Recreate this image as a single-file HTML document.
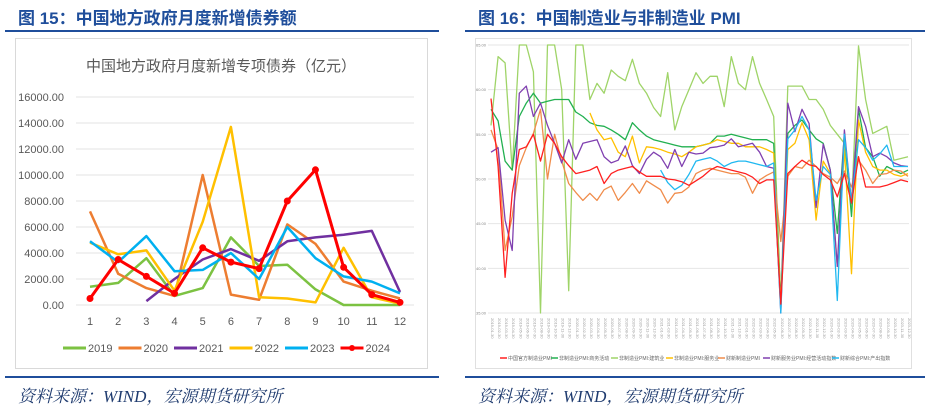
<!DOCTYPE html>
<html><head><meta charset="utf-8">
<style>
body{margin:0;width:929px;height:408px;background:#fff;overflow:hidden;position:relative;font-family:"Liberation Sans","Noto Sans CJK SC",sans-serif}
.hdr{position:absolute;top:4px;font-size:17px;font-weight:bold;color:#1f4e9b;white-space:nowrap}
.rule{position:absolute;height:2px;background:#1f4e9b}
.src{position:absolute;top:382px;font-family:"Liberation Serif","Noto Serif CJK SC",serif;font-style:italic;font-size:17px;color:#1f3b6f}
svg{position:absolute;left:0;top:0}
</style></head><body>
<div class="hdr" style="left:18px">图 15：中国地方政府月度新增债券额</div>
<div class="hdr" style="left:478px">图 16：中国制造业与非制造业 PMI</div>
<div class="rule" style="left:5px;width:434px;top:30px"></div>
<div class="rule" style="left:465px;width:460px;top:30px"></div>
<div class="rule" style="left:5px;width:434px;top:376px"></div>
<div class="rule" style="left:465px;width:460px;top:376px"></div>
<div class="src" style="left:18px">资料来源：WIND，宏源期货研究所</div>
<div class="src" style="left:478px">资料来源：WIND，宏源期货研究所</div>
<svg id="s" width="929" height="408" xmlns="http://www.w3.org/2000/svg"></svg>
<script>
// ---- Left chart data ----
const months=[1,2,3,4,5,6,7,8,9,10,11,12];
const yTicks=[0,2000,4000,6000,8000,10000,12000,14000,16000];
const years=['2019','2020','2021','2022','2023','2024'];
const colors=['#7cc242','#ed7d31','#7030a0','#ffc000','#00b0f0','#ff0000'];
const v2019=[1400,1700,3600,700,1300,5200,3000,3100,1200,0,0,0];
const v2020=[7200,2400,1300,700,10000,800,400,6200,4700,1800,1100,500];
const v2021=[null,null,300,2000,3500,4300,3400,4900,5200,5400,5700,1000];
const v2022=[4800,3900,4200,1100,6400,13700,600,500,200,4400,600,100];
const v2023=[4900,3300,5300,2600,2700,4000,2000,6000,3600,2200,1800,900];
const v2024=[500,3500,2200,900,4400,3300,2800,8000,10400,2900,800,200];

// ---- Right chart data ----
const pTicks=[35,40,45,50,55,60,65];
const pNames=['中国官方制造业PMI','非制造业PMI:商务活动','非制造业PMI:建筑业','非制造业PMI:服务业','财新制造业PMI','财新服务业PMI:经营活动指数','财新综合PMI:产出指数'];
const pColors=['#ff2020','#22b050','#9fd468','#ffc000','#f08c4a','#8040b0','#20b8f0'];
const pRed=[59,51.4,39,48.4,53.3,53.6,55,52,55,54,52.5,51.5,50.6,50.8,51,51.4,49.5,50.6,51,51.2,51.4,50.8,50.3,50.3,50.3,50,49.9,49.7,49.3,49.8,50.3,51,51.4,51.2,51,50.8,50.6,50.2,49.5,49.9,49.9,36,50.6,51.4,52.1,51.6,51.4,50.5,49.9,48,50.6,47.3,52.5,49.1,49.1,49.1,49.3,49.6,49.9,49.7];
const pGreen=[57.8,56.5,52,51,57,58.5,59.6,58.5,58.7,58.9,58.9,58.9,57.5,57,56.3,56,55.9,55.5,55,54.4,56.3,55.5,54.8,54.4,54.2,54,53.8,53.6,53.6,53.6,53.8,54,54.8,54.8,55,54.8,54.6,54.4,54.4,54.4,54,36.4,55.1,56,56.6,55.5,54.5,54,51,43.9,55.1,45.8,57.8,53.5,52.5,50.3,51.4,51,50.6,51];
const pBuild=[56,63.7,63,51,65,65,62,35,65,65,60,37.5,65,65,58.9,60.7,59.6,62.2,61.5,61,63.4,60.7,59.6,58,57,61.9,55.5,58.1,60,61.9,60.7,61.5,61.5,58.1,63.7,60.7,60,63.7,60.7,58.9,57,36,60.4,60.4,60.4,58.9,58.9,57.8,56,55,54,46.9,64.9,58.9,55.1,55.5,55.9,52.1,52.3,52.5];
const pServ=[null,null,null,null,null,null,null,null,null,null,null,null,null,null,57.4,55.5,54.4,54.6,53,52.5,54.8,51.8,53.6,53.5,53.3,53,52.8,52.5,53,53.6,53.8,54,54.4,54.2,54,54,53.6,53.6,53.6,53.3,52.9,36,53.3,54,56.3,54.4,45.4,52,50.6,40.2,53.3,39.4,56.6,53,51.4,51,51,50.5,50.3,50.6];
const pCxMfg=[55.5,53.3,42,45.8,51.5,53.5,55.1,57.8,50,55,52,49.5,48.5,47.6,48.4,47.6,48.8,49.2,47.6,48.5,49.5,48.4,49.8,49.3,48.8,47.3,48.4,48.5,49.1,50.6,51,51.2,51,50.8,50.6,50.6,50.2,48.4,49.9,50.4,50.8,43,50.3,51.4,51.2,52.1,51.4,50.6,50.2,49.5,50.9,49.1,52.1,51,49.5,50.5,50.6,51,50.9,50.3];
const pCxSrv=[53,53.5,45.4,42,59.6,60.4,57,58.5,56,54,51.8,54.4,52.2,54,54.2,54.4,52.5,51.8,52.1,53.7,51.5,50.6,52.2,53,52.5,51.2,53.3,51.4,53,52.8,52.9,53.5,53.6,53.8,54.5,53.6,53.8,54,53,51.4,51.2,35,58.5,55.3,57.8,56.2,46.8,53.9,51,40.2,55.5,47.3,58.1,55.9,52.5,52.9,52.5,51.8,51.5,51.4];
const pCxCmp=[null,null,null,null,null,null,null,null,null,null,null,null,null,null,null,null,null,null,null,null,null,null,null,null,51,49.6,48.8,49.3,50.5,52,52.2,52.4,52,51.4,51.8,52,52,51.8,51.6,51.4,51.8,35,54.5,55.5,57,55.5,47.6,51.4,50.5,36.4,55,47.3,54.4,53.5,52.1,52.8,53.8,51.4,51.4,51.4];
const pDates=[];for(let y=2019;y<=2024;y++)for(let m=1;m<=12;m+=1){if(pDates.length<60)pDates.push(y+'-'+String(m).padStart(2,'0')+'-30');}

const svg=document.getElementById('s');
const NS='http://www.w3.org/2000/svg';
function mk(tag,attrs,parent){const e=document.createElementNS(NS,tag);for(const k in attrs)e.setAttribute(k,attrs[k]);(parent||svg).appendChild(e);return e;}

// ===== Left chart =====
const L=mk('g',{});


const lb=mk('rect',{x:15.5,y:38.5,width:412,height:330,fill:'#fff',stroke:'#d9d9d9'},L);


const lt=mk('text',{x:221,y:71,'text-anchor':'middle','font-size':15,fill:'#595959','font-family':'"Liberation Sans","Noto Sans CJK SC",sans-serif'},L);
lt.textContent='中国地方政府月度新增专项债券（亿元）';


const lx=m=>90+(m-1)*(310/11);
const ly=v=>305-v*13/1000;
yTicks.forEach(t=>{
  const g=mk('line',{x1:76,x2:414,y1:ly(t),y2:ly(t),stroke:'#e3e3e3','stroke-width':1},L);
  
  
  const tx=mk('text',{x:64,y:ly(t)+4,'text-anchor':'end','font-size':11,fill:'#595959'},L);
  tx.textContent=t.toFixed(2);
  
  
});
months.forEach(m=>{
  const tx=mk('text',{x:lx(m),y:325,'text-anchor':'middle','font-size':11,fill:'#595959'},L);
  tx.textContent=m;
  
  
});
const lSeries=[v2019,v2020,v2021,v2022,v2023,v2024];
lSeries.forEach((arr,si)=>{
  let d='';let pen=false;
  arr.forEach((v,i)=>{if(v==null){pen=false;return;}d+=(pen?'L':'M')+lx(months[i]).toFixed(1)+','+ly(v).toFixed(1);pen=true;});
  const p=mk('path',{d:d,fill:'none',stroke:colors[si],'stroke-width':si==5?3:2.5,'stroke-linejoin':'round'},L);
  
  
  if(si==5){arr.forEach((v,i)=>{if(v==null)return;const c=mk('circle',{cx:lx(months[i]),cy:ly(v),r:3.5,fill:colors[5]},L);
    
    });}
});
years.forEach((y,i)=>{
  const x0=63+i*55.5;
  const g=mk('g',{},L);
  
  
  mk('line',{x1:x0,x2:x0+23,y1:348,y2:348,stroke:colors[i],'stroke-width':3},g);
  if(i==5)mk('circle',{cx:x0+11.5,cy:348,r:3,fill:colors[5]},g);
  const t=mk('text',{x:x0+25,y:352,'font-size':11,fill:'#595959'},g);t.textContent=y;
});

// ===== Right chart =====
const R=mk('g',{});


const rb=mk('rect',{x:475.5,y:38.5,width:436,height:330,fill:'#fff',stroke:'#e0e0e0'},R);


mk('clipPath',{id:'pc'},R).appendChild(Object.assign(document.createElementNS(NS,'rect'),{}));
document.querySelector('#pc rect').setAttribute('x',488);document.querySelector('#pc rect').setAttribute('y',44);
document.querySelector('#pc rect').setAttribute('width',424);document.querySelector('#pc rect').setAttribute('height',270);
const px=i=>491+i*(417/(pDates.length-1));
const py=v=>313-(v-35)*(268/30);
pTicks.forEach(t=>{
  const g=mk('line',{x1:488,x2:909,y1:py(t),y2:py(t),stroke:'#e6e6e6','stroke-width':1},R);
  
  
  const tx=mk('text',{x:486,y:py(t)+1.5,'text-anchor':'end','font-size':4,fill:'#888'},R);
  tx.textContent=t.toFixed(2);
  
  
});
pDates.forEach((d,i)=>{
  const x=px(i);
  const tx=mk('text',{x:x,y:318,'font-size':4,fill:'#999',transform:'rotate(90 '+x+' 318)'},R);
  tx.textContent=d;
  
  
});
const pSeries=[pRed,pGreen,pBuild,pServ,pCxMfg,pCxSrv,pCxCmp];
const order=[2,1,3,4,5,6,0];
order.forEach(si=>{
  const arr=pSeries[si];let d='';let pen=false;
  arr.forEach((v,i)=>{if(v==null){pen=false;return;}d+=(pen?'L':'M')+px(i).toFixed(1)+','+py(v).toFixed(1);pen=true;});
  const p=mk('path',{d:d,fill:'none',stroke:pColors[si],'stroke-width':1.3,'clip-path':'url(#pc)','stroke-linejoin':'round'},R);
  
  
});
const legX=[500,551,611,666,718,763,832];
pNames.forEach((n,i)=>{
  const g=mk('g',{},R);
  
  
  mk('line',{x1:legX[i],x2:legX[i]+7,y1:358,y2:358,stroke:pColors[i],'stroke-width':1.5},g);
  const t=mk('text',{x:legX[i]+8,y:360,'font-size':5,fill:'#666'},g);t.textContent=n;
});
</script>
</body></html>
